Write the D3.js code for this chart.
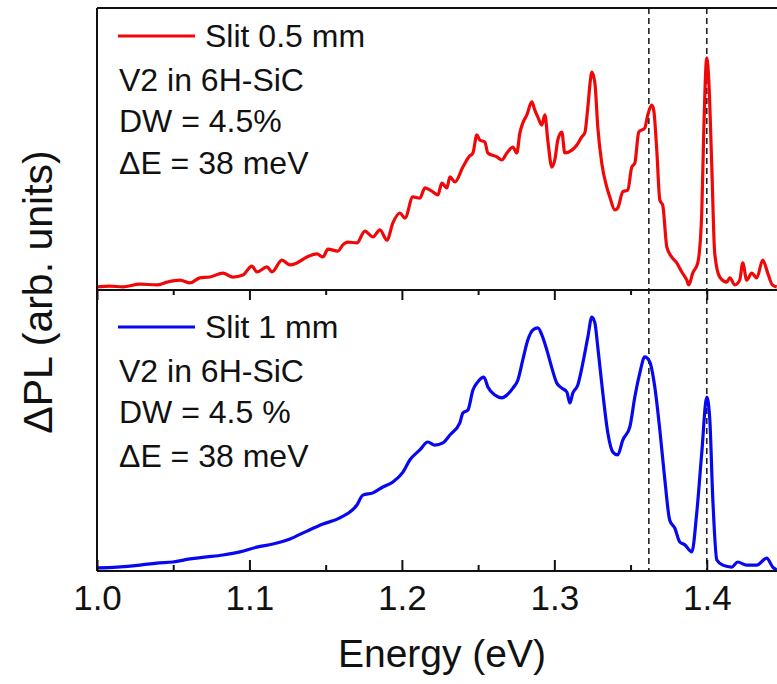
<!DOCTYPE html>
<html>
<head>
<meta charset="utf-8">
<script src="https://cdn.jsdelivr.net/npm/d3@7"></script>
<style>
	body { margin: 0; background: #fff; }
	text { font-family: "Liberation Sans", Arial, sans-serif; fill: #111; }
</style>
</head>
<body>
<div id="chart"></div>
<script>
// energies (eV) and PL values (arb. units, 0..1 of panel height)
const redEnergy = [1.0000, 1.0085, 1.0170, 1.0282, 1.0393, 1.0459, 1.0544, 1.0610, 1.0675, 1.0741,
	1.0826, 1.0892, 1.0957, 1.1016, 1.1049, 1.1115, 1.1148, 1.1213, 1.1266, 1.1311,
	1.1377, 1.1443, 1.1482, 1.1515, 1.1580, 1.1613, 1.1646, 1.1705, 1.1757, 1.1810,
	1.1856, 1.1902, 1.1941, 1.1987, 1.2020, 1.2072, 1.2118, 1.2151, 1.2203, 1.2236,
	1.2262, 1.2295, 1.2315, 1.2348, 1.2400, 1.2439, 1.2466, 1.2492, 1.2511, 1.2544,
	1.2564, 1.2623, 1.2656, 1.2689, 1.2728, 1.2754, 1.2774, 1.2793, 1.2820, 1.2852,
	1.2872, 1.2892, 1.2918, 1.2938, 1.2957, 1.2984, 1.3003, 1.3023, 1.3049, 1.3069,
	1.3115, 1.3148, 1.3180, 1.3200, 1.3220, 1.3239, 1.3246, 1.3266, 1.3285, 1.3311,
	1.3344, 1.3364, 1.3397, 1.3416, 1.3449, 1.3482, 1.3508, 1.3528, 1.3554, 1.3593,
	1.3613, 1.3639, 1.3652, 1.3672, 1.3692, 1.3711, 1.3738, 1.3770, 1.3803, 1.3836,
	1.3869, 1.3882, 1.3908, 1.3941, 1.3967, 1.3980, 1.4000, 1.4013, 1.4033, 1.4052,
	1.4085, 1.4131, 1.4151, 1.4184, 1.4216, 1.4236, 1.4262, 1.4295, 1.4328, 1.4367,
	1.4400, 1.4430, 1.4459];
const redPL = [0.011, 0.014, 0.011, 0.021, 0.018, 0.028, 0.035, 0.025, 0.043, 0.046,
	0.060, 0.046, 0.053, 0.085, 0.064, 0.082, 0.064, 0.106, 0.089, 0.096,
	0.117, 0.128, 0.117, 0.145, 0.138, 0.160, 0.170, 0.167, 0.209, 0.188,
	0.213, 0.177, 0.238, 0.273, 0.255, 0.330, 0.326, 0.362, 0.348, 0.337,
	0.379, 0.362, 0.401, 0.383, 0.436, 0.472, 0.486, 0.550, 0.532, 0.525,
	0.486, 0.472, 0.461, 0.486, 0.507, 0.486, 0.557, 0.592, 0.621, 0.667,
	0.638, 0.613, 0.585, 0.621, 0.532, 0.436, 0.461, 0.532, 0.560, 0.486,
	0.496, 0.514, 0.543, 0.557, 0.649, 0.755, 0.773, 0.734, 0.578, 0.450,
	0.365, 0.330, 0.284, 0.291, 0.348, 0.355, 0.436, 0.450, 0.560, 0.574,
	0.621, 0.656, 0.638, 0.496, 0.319, 0.301, 0.152, 0.117, 0.096, 0.064,
	0.035, 0.018, 0.060, 0.096, 0.273, 0.557, 0.823, 0.745, 0.436, 0.131,
	0.046, 0.028, 0.043, 0.018, 0.035, 0.096, 0.035, 0.060, 0.043, 0.106,
	0.060, 0.018, 0.011];

const blueEnergy = [1.0000, 1.0131, 1.0282, 1.0393, 1.0498, 1.0610, 1.0721, 1.0826, 1.0938, 1.1049,
	1.1154, 1.1266, 1.1377, 1.1482, 1.1593, 1.1705, 1.1744, 1.1810, 1.1875, 1.1941,
	1.2007, 1.2052, 1.2118, 1.2170, 1.2216, 1.2269, 1.2315, 1.2380, 1.2400, 1.2433,
	1.2466, 1.2498, 1.2538, 1.2564, 1.2610, 1.2656, 1.2689, 1.2728, 1.2761, 1.2793,
	1.2826, 1.2859, 1.2892, 1.2918, 1.2951, 1.2984, 1.3016, 1.3049, 1.3082, 1.3102,
	1.3121, 1.3154, 1.3187, 1.3220, 1.3246, 1.3266, 1.3285, 1.3318, 1.3351, 1.3384,
	1.3416, 1.3449, 1.3495, 1.3528, 1.3561, 1.3593, 1.3626, 1.3659, 1.3692, 1.3725,
	1.3757, 1.3790, 1.3823, 1.3856, 1.3902, 1.3934, 1.3967, 1.4000, 1.4020, 1.4039,
	1.4066, 1.4105, 1.4164, 1.4203, 1.4262, 1.4328, 1.4393, 1.4433, 1.4459];
const bluePL = [0.011, 0.014, 0.021, 0.028, 0.032, 0.043, 0.050, 0.057, 0.068, 0.085,
	0.096, 0.114, 0.142, 0.167, 0.189, 0.235, 0.270, 0.278, 0.299, 0.317,
	0.352, 0.395, 0.431, 0.459, 0.448, 0.456, 0.484, 0.527, 0.562, 0.573,
	0.644, 0.673, 0.690, 0.655, 0.626, 0.616, 0.626, 0.651, 0.680, 0.751,
	0.822, 0.858, 0.865, 0.840, 0.786, 0.722, 0.669, 0.651, 0.637, 0.598,
	0.633, 0.662, 0.740, 0.833, 0.904, 0.883, 0.797, 0.633, 0.491, 0.423,
	0.413, 0.466, 0.512, 0.619, 0.705, 0.762, 0.744, 0.655, 0.502, 0.324,
	0.181, 0.153, 0.103, 0.093, 0.068, 0.206, 0.420, 0.619, 0.537, 0.263,
	0.039, 0.021, 0.014, 0.032, 0.021, 0.021, 0.046, 0.014, 0.004];

// dashed markers (eV)
const markerEnergy = [1.362, 1.400];
const majorTicks = [1.0, 1.1, 1.2, 1.3, 1.4];
const minorTicks = [1.05, 1.15, 1.25, 1.35, 1.45];

// legend / annotation text of both panels
const redLabels = ["Slit 0.5 mm", "V2 in 6H-SiC", "DW = 4.5%", "\u0394E = 38 meV"];
const blueLabels = ["Slit 1 mm", "V2 in 6H-SiC", "DW = 4.5 %", "\u0394E = 38 meV"];

const WIDTH = 777, HEIGHT = 684;
const PLOT = { left: 97, right: 783, top: 8, mid: 290, bottom: 571 };

function zip(xs, ys) {
	return xs.map((e, i) => ({ e: e, v: ys[i] }));
}

// draw one panel: curve + legend text
function drawPanel(svg, x, y, data, color, labels, lineY, baselines) {
	const line = d3.line()
		.curve(d3.curveMonotoneX)
		.x(d => x(d.e))
		.y(d => y(d.v));

	svg.append("path")
		.datum(data)
		.attr("clip-path", "url(#plotclip)")
		.attr("fill", "none")
		.attr("stroke", color)
		.attr("stroke-width", 3.2)
		.attr("stroke-linejoin", "round")
		.attr("d", line);

	// legend sample
	svg.append("line")
		.attr("x1", 118).attr("x2", 195)
		.attr("y1", lineY).attr("y2", lineY)
		.attr("stroke", color)
		.attr("stroke-width", 3);

	svg.append("g")
		.selectAll("text")
		.data(labels)
		.enter()
		.append("text")
		.attr("x", (d, i) => i === 0 ? 205 : 119)
		.attr("y", (d, i) => baselines[i])
		.style("font-size", "32px")
		.text(d => d);
}

function plotSpectra() {
	const svg = d3.select("#chart")
		.append("svg")
		.attr("width", WIDTH)
		.attr("height", HEIGHT);

	svg.append("clipPath")
		.attr("id", "plotclip")
		.append("rect")
		.attr("x", PLOT.left)
		.attr("y", PLOT.top)
		.attr("width", PLOT.right - PLOT.left)
		.attr("height", PLOT.bottom - PLOT.top);

	const x = d3.scaleLinear().domain([1.0, 1.45]).range([PLOT.left, PLOT.right]);
	const yTop = d3.scaleLinear().domain([0, 1]).range([PLOT.mid, PLOT.top]);
	const yBot = d3.scaleLinear().domain([0, 1]).range([PLOT.bottom, PLOT.mid]);

	// dashed guide lines across both panels
	svg.append("g")
		.selectAll("line")
		.data(markerEnergy)
		.enter()
		.append("line")
		.attr("x1", d => x(d)).attr("x2", d => x(d))
		.attr("y1", PLOT.top).attr("y2", PLOT.bottom)
		.attr("stroke", "#222")
		.attr("stroke-width", 1.6)
		.attr("stroke-dasharray", "6,4");

	drawPanel(svg, x, yTop, zip(redEnergy, redPL), "#f00808", redLabels, 36, [47, 91, 132, 174]);
	drawPanel(svg, x, yBot, zip(blueEnergy, bluePL), "#0808f0", blueLabels, 327, [338, 382, 423, 467]);

	// frame
	const frame = svg.append("g")
		.attr("stroke", "#111")
		.attr("stroke-width", 2);
	frame.append("line").attr("x1", PLOT.left).attr("x2", PLOT.left).attr("y1", PLOT.top).attr("y2", PLOT.bottom);
	[PLOT.top, PLOT.mid, PLOT.bottom].forEach(yy => {
		frame.append("line").attr("x1", PLOT.left).attr("x2", PLOT.right).attr("y1", yy).attr("y2", yy);
	});

	// bottom axis, ticks pointing inward
	const bottomAxis = svg.append("g")
		.attr("transform", `translate(0,${PLOT.bottom})`)
		.call(d3.axisBottom(x).tickValues(majorTicks).tickSize(-11).tickPadding(14).tickFormat(d3.format(".1f")));
	svg.append("g")
		.attr("transform", `translate(0,${PLOT.bottom})`)
		.call(d3.axisBottom(x).tickValues(minorTicks).tickSize(-6).tickFormat(""));

	// ticks hanging below the panel divider
	svg.append("g")
		.attr("transform", `translate(0,${PLOT.mid})`)
		.call(d3.axisBottom(x).tickValues(majorTicks).tickSize(10).tickFormat(""));
	svg.append("g")
		.attr("transform", `translate(0,${PLOT.mid})`)
		.call(d3.axisBottom(x).tickValues(minorTicks).tickSize(5).tickFormat(""));

	svg.selectAll(".domain").remove();
	svg.selectAll(".tick line")
		.attr("stroke", "#111")
		.attr("stroke-width", 2);
	bottomAxis.selectAll("text")
		.style("font-size", "35px")
		.style("font-family", "'Liberation Sans', Arial, sans-serif")
		.attr("fill", "#111");

	// axis titles
	svg.append("text")
		.attr("x", 442)
		.attr("y", 667)
		.attr("text-anchor", "middle")
		.style("font-size", "39px")
		.text("Energy (eV)");

	svg.append("text")
		.attr("transform", "translate(52,292) rotate(-90)")
		.attr("text-anchor", "middle")
		.style("font-size", "41px")
		.text("\u0394PL (arb. units)");
}

plotSpectra();
</script>
</body>
</html>
